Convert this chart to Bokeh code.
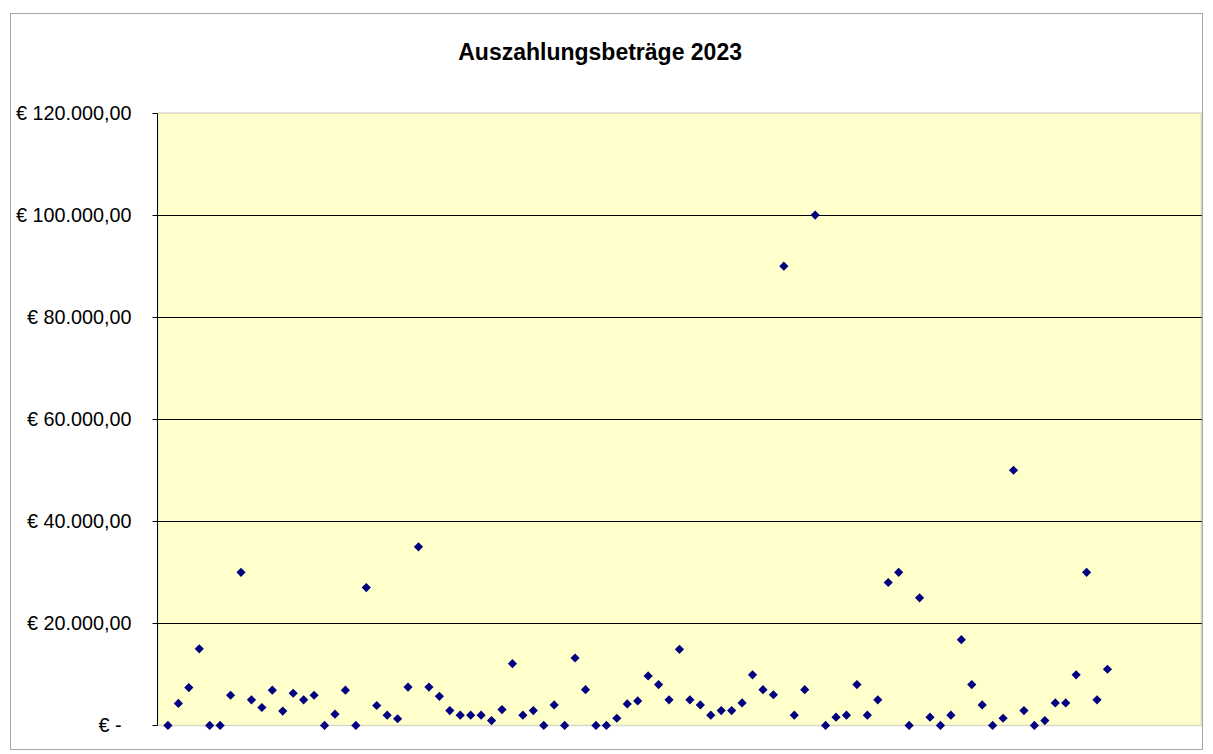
import math
from bokeh.plotting import figure
from bokeh.models import Range1d, FixedTicker, BoxAnnotation, Label
from bokeh.embed import file_html
from bokeh.resources import INLINE

title_text = "Auszahlungsbeträge 2023"

payment_no = list(range(1, 92))
amounts = [
    0, 4300, 7400, 15000, 0, 0, 5900, 30000, 5000, 3500,
    6900, 2800, 6300, 5000, 5900, 0, 2200, 6900, 0, 27000,
    3900, 2000, 1300, 7500, 35000, 7500, 5700, 2900, 2000, 2000,
    2000, 950, 3100, 12100, 2000, 2900, 0, 4000, 0, 13200,
    7000, 0, 0, 1400, 4200, 4800, 9700, 8000, 5000, 14900,
    5000, 4000, 2000, 2900, 2900, 4400, 9900, 7000, 6000, 90000,
    2000, 7000, 100000, 0, 1600, 2000, 8000, 2000, 5000, 28000,
    30000, 0, 25000, 1600, 0, 2000, 16800, 8000, 4000, 0,
    1400, 50000, 2900, 0, 950, 4400, 4400, 9900, 30000, 5000,
    11000,
]

y_ticks = [0, 20000, 40000, 60000, 80000, 100000, 120000]
y_tick_labels = ["€ -\u2002", "€ 20.000,00", "€ 40.000,00", "€ 60.000,00",
                 "€ 80.000,00", "€ 100.000,00", "€ 120.000,00"]

FONT = "Liberation Sans"
Y_MAX = 120000
X_MAX = 100

# frame extends above the plot area so the title can live inside it
p = figure(width=1193, height=737, output_backend="svg", toolbar_location=None,
           x_range=Range1d(0, 100.2), y_range=Range1d(-1200, 138140),
           x_axis_location=None,
           min_border_left=146, min_border_right=1, min_border_top=6, min_border_bottom=20)
p.styles = {"border": "1px solid #a6a6a6", "margin-left": "10px", "margin-top": "13px"}
p.background_fill_color = "white"
p.border_fill_color = "white"
p.outline_line_color = None

# plot area fill (below grid)
p.add_layout(BoxAnnotation(left=0, right=X_MAX, bottom=0, top=Y_MAX,
                           fill_color="#FFFFCC", fill_alpha=1.0,
                           line_color=None, level="image"))
# plot area border (above grid, below markers)
p.add_layout(BoxAnnotation(left=0, right=X_MAX, bottom=0, top=Y_MAX,
                           fill_color=None, fill_alpha=0,
                           line_color="#808080", line_width=1.5, level="underlay"))

p.xgrid.visible = False
p.ygrid.ticker = FixedTicker(ticks=y_ticks[1:-1])
p.ygrid.grid_line_color = "black"
p.ygrid.grid_line_width = 1

ax = p.yaxis[0]
ax.ticker = FixedTicker(ticks=y_ticks)
ax.major_label_overrides = {t: l for t, l in zip(y_ticks, y_tick_labels)}
ax.bounds = (0, Y_MAX)
ax.axis_line_color = "black"
ax.axis_line_width = 1
ax.major_tick_line_color = "black"
ax.major_tick_out = 5
ax.major_tick_in = 0
ax.minor_tick_line_color = None
ax.major_label_standoff = 21
ax.major_label_text_font = FONT
ax.major_label_text_font_size = "19.8px"
ax.major_label_text_color = "black"

p.scatter(x=payment_no, y=amounts, marker="square", angle=math.pi / 4, size=6.5,
          fill_color="#000080", line_color=None)

p.add_layout(Label(x=42.4, y=131900, text=title_text, text_font=FONT,
                   text_font_style="bold", text_font_size="23px",
                   text_align="center", text_baseline="alphabetic",
                   text_color="black"))

open("out.html", "w").write(file_html(p, INLINE))
